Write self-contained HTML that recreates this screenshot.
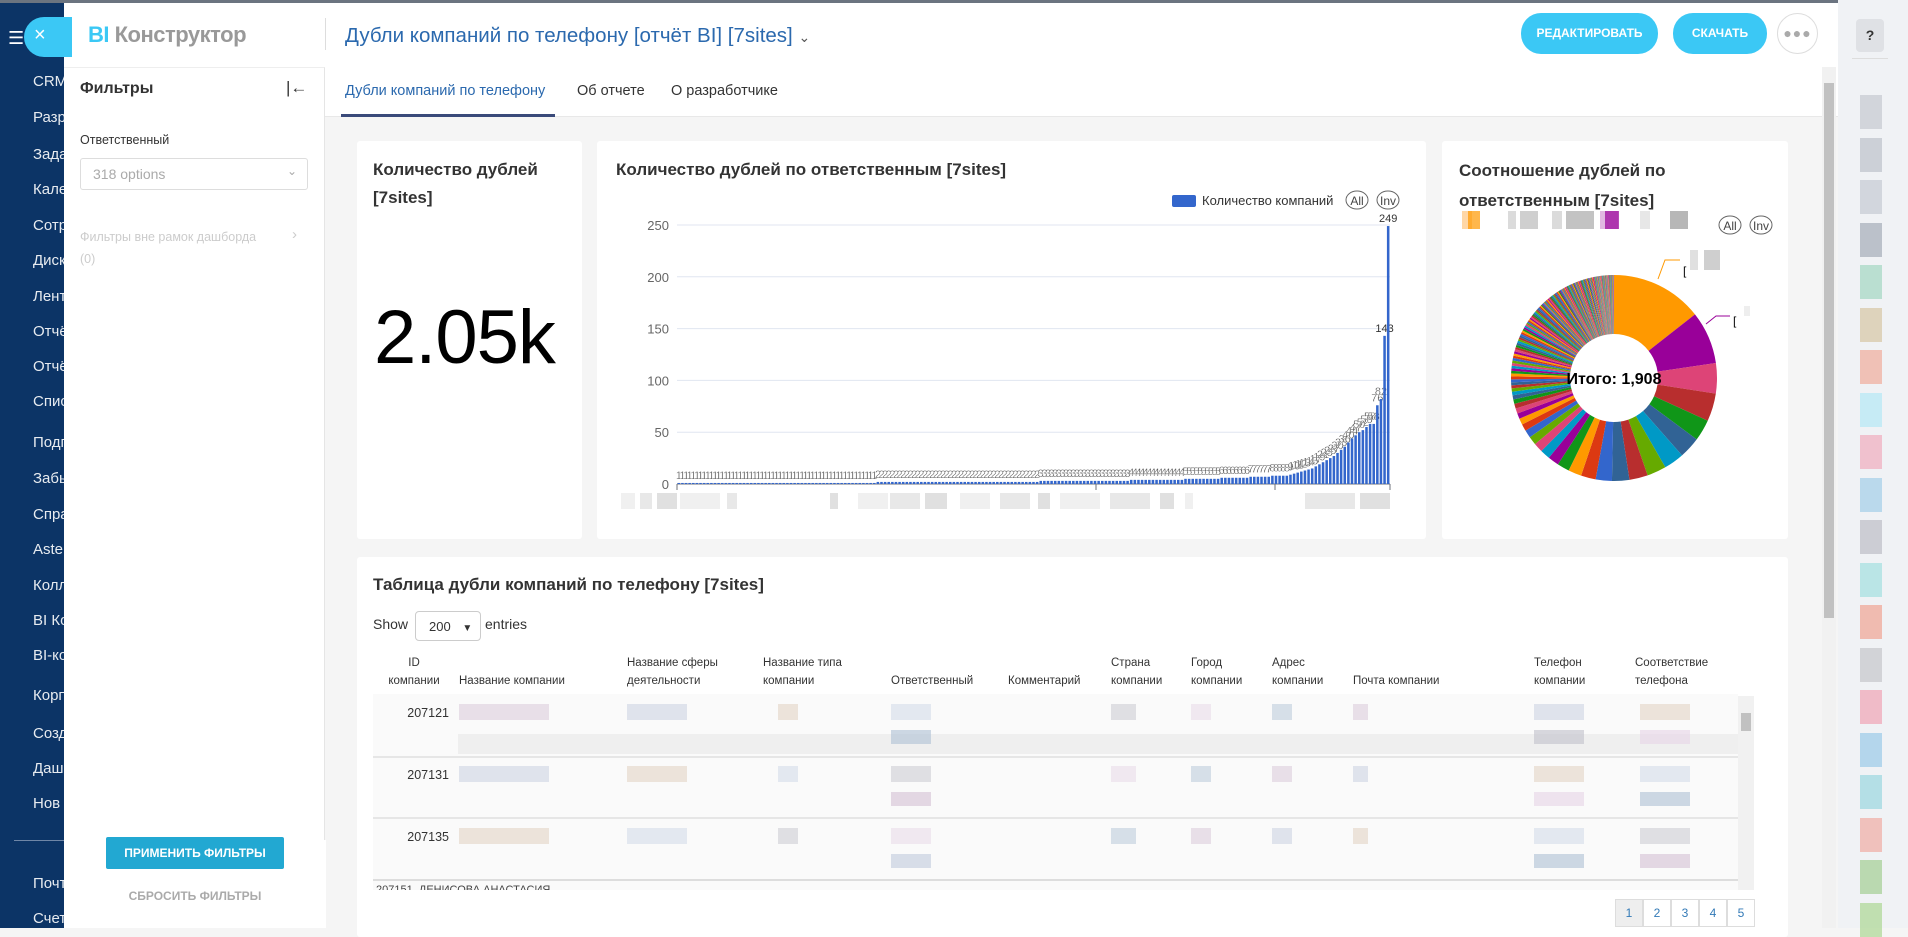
<!DOCTYPE html>
<html><head><meta charset="utf-8">
<style>
*{box-sizing:border-box;margin:0;padding:0}
body{width:1908px;height:928px;overflow:hidden;position:relative;background:#f5f5f5;font-family:"Liberation Sans","DejaVu Sans",sans-serif;color:#333}
.a{position:absolute}
.nav{left:0;top:0;width:64px;height:928px;background:#0c3466;overflow:hidden}
.nav div{position:absolute;left:33px;color:#fff;font-size:15px;white-space:nowrap;opacity:.9}
.card{background:#fff;border-radius:3px}
.t{font-size:17px;font-weight:bold;color:#333;line-height:28px}
.btn{background:#3bc8f5;color:#fff;font-size:12px;font-weight:bold;border-radius:20px;text-align:center;line-height:41px}
.th{font-size:11.5px;color:#333;line-height:18px}
.blk{position:absolute;height:14px}
</style></head><body>
<div class="a nav">
<div style="top:73px">CRM</div><div style="top:109px">Разр</div><div style="top:146px">Зада</div><div style="top:181px">Кале</div><div style="top:217px">Сотр</div><div style="top:252px">Диск</div><div style="top:288px">Лент</div><div style="top:323px">Отчё</div><div style="top:358px">Отчё</div><div style="top:393px">Спис</div><div style="top:434px">Подп</div><div style="top:470px">Забы</div><div style="top:506px">Спра</div><div style="top:541px">Aste</div><div style="top:577px">Колл</div><div style="top:612px">BI Ко</div><div style="top:647px">BI-ко</div><div style="top:687px">Корп</div><div style="top:725px">Созд</div><div style="top:760px">Даш</div><div style="top:795px">Нов</div>
<div style="top:840px;left:14px;width:50px;height:1px;background:#7a8fae"></div>
<div style="top:875px">Почт</div><div style="top:910px">Счет</div>
</div>
<div class="a" style="left:0;top:0;width:1908px;height:3px;background:#6b7480"></div>
<div class="a" style="left:8px;top:28px;color:#fff;font-size:18px">☰</div>
<div class="a" style="left:64px;top:3px;width:1774px;height:925px;background:#f5f5f5"></div>
<div class="a" style="left:64px;top:3px;width:1774px;height:114px;background:#fff;border-bottom:1px solid #e8e8e8"></div>
<div class="a" style="left:24px;top:17px;width:48px;height:40px;background:#3bc8f5;border-radius:20px 0 0 20px"></div>
<div class="a" style="left:34px;top:24px;color:#fff;font-size:20px">×</div>
<div class="a" style="left:88px;top:22px;font-size:22px;color:#999;font-weight:bold;letter-spacing:-0.5px"><span style="color:#3bc8f5">BI</span> Конструктор</div>
<div class="a" style="left:325px;top:18px;width:1px;height:32px;background:#ddd"></div>
<div class="a" style="left:345px;top:24px;font-size:20.5px;color:#2b69ae">Дубли компаний по телефону [отчёт BI] [7sites] <span style="font-size:14px;color:#555">&#8964;</span></div>
<div class="a btn" style="left:1521px;top:13px;width:137px">РЕДАКТИРОВАТЬ</div>
<div class="a btn" style="left:1673px;top:13px;width:94px">СКАЧАТЬ</div>
<div class="a" style="left:1777px;top:13px;width:41px;height:41px;border:1px solid #ddd;border-radius:50%;text-align:center;line-height:38px;color:#aaa;font-size:14px;letter-spacing:1px">●●●</div>
<div class="a" style="left:1838px;top:0;width:70px;height:928px;background:#f0f2f5"></div>
<div class="a" style="left:1856px;top:19px;width:28px;height:33px;background:#dfe1e5;border-radius:4px;text-align:center;line-height:33px;font-size:14px;color:#333;font-weight:bold">?</div>
<div class="a" style="left:1852px;top:58px;width:36px;height:1px;background:#ddd"></div>
<div id="rs"></div>
<div class="a" style="left:64px;top:67px;width:261px;height:773px;background:#fff;border-right:1px solid #e5e5e5;border-top:1px solid #eee"></div>
<div class="a" style="left:80px;top:80px;font-size:16px;font-weight:bold;color:#333">Фильтры</div>
<div class="a" style="left:286px;top:78px;font-size:17px;color:#333">|&#8592;</div>
<div class="a" style="left:80px;top:133px;font-size:12.5px;color:#333">Ответственный</div>
<div class="a" style="left:80px;top:158px;width:228px;height:32px;border:1px solid #ddd;border-radius:3px;font-size:14px;color:#aaa;padding:7px 12px">318 options<span style="position:absolute;right:10px;top:5px;font-size:12px">&#8964;</span></div>
<div class="a" style="left:80px;top:230px;font-size:12.5px;color:#ccc">Фильтры вне рамок дашборда</div>
<div class="a" style="left:292px;top:226px;font-size:15px;color:#ccc">›</div>
<div class="a" style="left:80px;top:252px;font-size:12.5px;color:#ccc">(0)</div>
<div class="a" style="left:64px;top:840px;width:262px;height:88px;background:#fff"></div>
<div class="a" style="left:106px;top:837px;width:178px;height:32px;background:#22a8d2;color:#fff;font-size:12px;font-weight:bold;text-align:center;line-height:32px;border-radius:2px">ПРИМЕНИТЬ ФИЛЬТРЫ</div>
<div class="a" style="left:106px;top:889px;width:178px;text-align:center;font-size:12px;font-weight:bold;color:#aaa">СБРОСИТЬ ФИЛЬТРЫ</div>
<div class="a" style="left:345px;top:83px;font-size:14.5px;color:#2b69ae">Дубли компаний по телефону</div>
<div class="a" style="left:577px;top:83px;font-size:14.5px;color:#333">Об отчете</div>
<div class="a" style="left:671px;top:83px;font-size:14.5px;color:#333">О разработчике</div>
<div class="a" style="left:341px;top:114px;width:214px;height:3px;background:#3a4a7a"></div>
<div class="a" style="left:1822px;top:67px;width:14px;height:861px;background:#f1f1f1"></div>
<div class="a" style="left:1824px;top:83px;width:10px;height:535px;background:#c1c1c1"></div>
<div class="a card" style="left:357px;top:141px;width:225px;height:398px"></div>
<div class="a t" style="left:373px;top:156px">Количество дублей<br>[7sites]</div>
<div class="a" style="left:374px;top:294px;font-size:76px;color:#000;letter-spacing:-1px">2.05k</div>
<div class="a card" style="left:597px;top:141px;width:829px;height:398px"></div>
<div class="a t" style="left:616px;top:156px">Количество дублей по ответственным [7sites]</div>
<div class="a card" style="left:1442px;top:141px;width:346px;height:398px"></div>
<div class="a t" style="left:1459px;top:156px;line-height:30px">Соотношение дублей по<br>ответственным [7sites]</div>
<div class="a card" style="left:357px;top:557px;width:1431px;height:380px"></div>
<div class="a t" style="left:373px;top:571px">Таблица дубли компаний по телефону [7sites]</div>
<div class="a" style="left:373px;top:616px;font-size:14px">Show</div>
<div class="a" style="left:415px;top:611px;width:66px;height:30px;border:1px solid #ccc;border-radius:4px;font-size:13px;padding:7px 0 0 13px">200 <span style="font-size:10px;margin-left:8px">▼</span></div>
<div class="a" style="left:485px;top:616px;font-size:14px">entries</div>
<svg class="a" style="left:0;top:0" width="1908" height="928" id="sv"></svg>
<div id="tb"></div>
<script>
var sv=document.getElementById('sv'),h='';
h+='<rect x="1172" y="195" width="24" height="12" rx="2" fill="#3366cc"/><text x="1202" y="205" font-size="13" fill="#333">Количество компаний</text>';
h+='<ellipse cx="1357" cy="200" rx="11" ry="9" fill="none" stroke="#666"/><text x="1357" y="205" font-size="12" text-anchor="middle" fill="#444">All</text>';
h+='<ellipse cx="1388" cy="200" rx="11" ry="9" fill="none" stroke="#666"/><text x="1388" y="205" font-size="12" text-anchor="middle" fill="#444">Inv</text>';
for(var i=0;i<=5;i++){var y=484-i*51.8;h+='<line x1="677" x2="1390" y1="'+y+'" y2="'+y+'" stroke="#e0e6f1"/><text x="669" y="'+(y+5)+'" font-size="13" text-anchor="end" fill="#666">'+(i*50)+'</text>';}
h+='<line x1="677" x2="1390" y1="484" y2="484" stroke="#6e7079"/>';
var d=[],add=function(v,n){for(var k=0;k<n;k++)d.push(v)};
add(1,55);add(2,45);add(3,25);add(4,15);add(5,10);add(6,8);add(7,6);add(8,5);
[9,10,11,12,13,14,15,17,19,21,23,25,27,30,33,36,40,44,47,50,52,55,58,58,76,82,143,249].forEach(function(v){d.push(v)});
var N=d.length,w=713/N;
d.forEach(function(v,i){var x=677+i*w,bh=v*1.036;h+='<rect x="'+(x+w*0.15).toFixed(2)+'" y="'+(484-bh).toFixed(2)+'" width="'+(w*0.7).toFixed(2)+'" height="'+bh.toFixed(2)+'" fill="#3366cc"/>';
h+='<text x="'+(x+w/2).toFixed(1)+'" y="'+(480-bh).toFixed(1)+'" font-size="11" text-anchor="middle" fill="#333" '+(v<100?'stroke="#fff" stroke-width="0.3"':'')+'>'+v+'</text>';});
[677,1096,1275,1390].forEach(function(x){h+='<line x1="'+x+'" x2="'+x+'" y1="484" y2="490" stroke="#6e7079"/>'});
[[621,14],[640,12],[657,20],[680,40],[727,10],[830,8],[858,30],[890,30],[925,22],[960,30],[1000,30],[1038,12],[1060,40],[1110,40],[1160,14],[1185,8],[1305,50],[1360,30]].forEach(function(b,i){h+='<rect x="'+b[0]+'" y="493" width="'+b[1]+'" height="16" fill="#ccc" opacity="'+(0.3+0.3*(i%3)/2)+'"/>'});
var pal=['#ff9900','#990099','#dd4477','#b82e2e','#109618','#316395','#0099c6','#66aa00','#b82e2e','#316395','#3366cc','#dc3912','#ff9900','#109618','#990099','#0099c6','#dd4477','#66aa00','#3366cc','#dc3912'];
var s=d.slice().sort(function(a,b){return b-a}),tot=0;s.forEach(function(v){tot+=v});
var cx=1614,cy=378,R=103,r=44,a=-Math.PI/2;
s.forEach(function(v,i){var b=a+v/tot*2*Math.PI;var L=(b-a)>Math.PI?1:0;
var p='M'+(cx+R*Math.cos(a))+','+(cy+R*Math.sin(a))+'A'+R+','+R+' 0 '+L+' 1 '+(cx+R*Math.cos(b))+','+(cy+R*Math.sin(b))+'L'+(cx+r*Math.cos(b))+','+(cy+r*Math.sin(b))+'A'+r+','+r+' 0 '+L+' 0 '+(cx+r*Math.cos(a))+','+(cy+r*Math.sin(a))+'Z';
h+='<path d="'+p+'" fill="'+pal[i%pal.length]+'"/>';a=b;});
h+='<text x="'+cx+'" y="'+(cy+6)+'" font-size="16" font-weight="bold" text-anchor="middle" fill="#000">Итого: 1,908</text>';
h+='<polyline points="1658,279 1665,260 1680,260" fill="none" stroke="#ff9900"/><text x="1683" y="275" font-size="12">[</text><rect x="1690" y="250" width="8" height="20" fill="#ccc" opacity=".6"/><rect x="1704" y="250" width="16" height="20" fill="#bbb" opacity=".7"/>';
h+='<polyline points="1706,324 1716,316 1730,316" fill="none" stroke="#990099"/><text x="1733" y="325" font-size="12">[</text><rect x="1744" y="306" width="6" height="10" fill="#eee"/>';
[['#ffc680',1462,10],['#ff9900',1468,12],['#ccc',1508,8],['#bbb',1520,18],['#ccc',1552,10],['#aaa',1566,28],['#d49ad4',1600,18],['#990099',1605,14],['#ddd',1640,10],['#999',1670,18]].forEach(function(b){h+='<rect x="'+b[1]+'" y="211" width="'+b[2]+'" height="18" fill="'+b[0]+'" opacity=".7"/>'});
h+='<ellipse cx="1730" cy="225" rx="11" ry="9" fill="none" stroke="#666"/><text x="1730" y="230" font-size="12" text-anchor="middle" fill="#444">All</text>';
h+='<ellipse cx="1761" cy="225" rx="11" ry="9" fill="none" stroke="#666"/><text x="1761" y="230" font-size="12" text-anchor="middle" fill="#444">Inv</text>';
sv.innerHTML=h;
var t='';
var cols=[[381,'ID<br>компании',1],[459,'Название компании'],[627,'Название сферы<br>деятельности'],[763,'Название типа<br>компании'],[891,'Ответственный'],[1008,'Комментарий'],[1111,'Страна<br>компании'],[1191,'Город<br>компании'],[1272,'Адрес<br>компании'],[1353,'Почта компании'],[1534,'Телефон<br>компании'],[1635,'Соответствие<br>телефона']];
cols.forEach(function(c){var two=c[1].indexOf('<br>')>0;t+='<div class="a th" style="left:'+c[0]+'px;top:'+(two?654:672)+'px;'+(c[2]?'text-align:center;width:70px;left:'+(c[0]-2)+'px':'')+'">'+c[1]+'</div>';});
t+='<div class="a" style="left:373px;top:694px;width:1365px;height:196px;background:#fafafa;overflow:hidden">';
t+='<div class="a" style="left:0;top:62px;width:1365px;height:2px;background:#e6e6e6"></div><div class="a" style="left:0;top:123px;width:1365px;height:2px;background:#e6e6e6"></div><div class="a" style="left:0;top:185px;width:1365px;height:2px;background:#ddd"></div>';
t+='<div class="a" style="left:85px;top:40px;width:1280px;height:20px;background:#efefef"></div>';
t+='<div class="a" style="left:0;top:190px;font-size:11px;color:#444;white-space:nowrap">&nbsp;207151 &nbsp;ДЕНИСОВА АНАСТАСИЯ</div>';
t+='</div>';
[[706,'207121'],[768,'207131'],[830,'207135']].forEach(function(r){t+='<div class="a" style="left:380px;top:'+r[0]+'px;width:69px;text-align:right;font-size:12.5px;color:#333">'+r[1]+'</div>';});
var cl=['#d8c8d8','#c8d0e0','#e0d0c0','#d0d8e8','#c8c8d0','#e8d8e8','#b8c8d8'];
[700,762,824].forEach(function(y,ri){[[459,90],[627,60],[778,20],[891,40],[1111,25],[1191,20],[1272,20],[1353,15],[1534,50],[1640,50]].forEach(function(c,ci){t+='<div class="blk" style="left:'+c[0]+'px;top:'+(y+4)+'px;width:'+c[1]+'px;height:16px;background:'+cl[(ci+ri)%7]+';opacity:.55"></div>';if(ci==3||ci==8||ci==9)t+='<div class="blk" style="left:'+c[0]+'px;top:'+(y+30)+'px;width:'+c[1]+'px;height:14px;background:'+cl[(ci+ri+3)%7]+';opacity:.7"></div>';});});
t+='<div class="a" style="left:1738px;top:696px;width:16px;height:194px;background:#f1f1f1"></div><div class="a" style="left:1741px;top:713px;width:10px;height:18px;background:#c1c1c1"></div>';
['1','2','3','4','5'].forEach(function(p,i){t+='<div class="a" style="left:'+(1615+i*28)+'px;top:899px;width:28px;height:28px;border:1px solid #ddd;'+(i==0?'background:#eee;':'')+'text-align:center;line-height:26px;font-size:12px;color:#337ab7">'+p+'</div>';});
document.getElementById('tb').innerHTML=t;
var rs='',rc=['#c8cbd2','#c0c4cc','#c8ccd4','#aab0bb','#a8d8c4','#d8c8a8','#f0b0a0','#b8e8f4','#f0b0c0','#a8d0e8','#c0c0c8','#a8e0e0','#f0a898','#c8c8cc','#f0a8b8','#a0cce8','#a0d8e0','#f0b0a8','#a8d098','#b0d898'];
rc.forEach(function(c,i){rs+='<div class="a" style="left:1860px;top:'+(95+i*42.5)+'px;width:22px;height:34px;background:'+c+';opacity:.75"></div>'});
document.getElementById('rs').innerHTML=rs;
</script>
</body></html>
